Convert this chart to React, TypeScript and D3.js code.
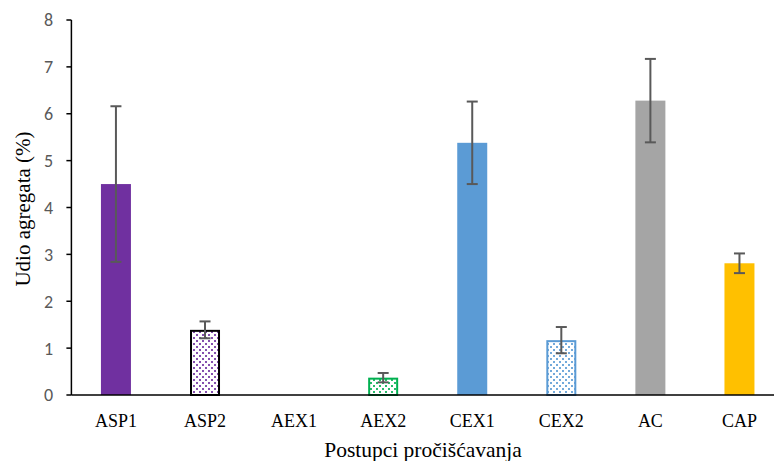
import React from "react";
import * as d3 from "d3";

const categories = ["ASP1", "ASP2", "AEX1", "AEX2", "CEX1", "CEX2", "AC", "CAP"];
const values = [4.5, 1.39, 0, 0.37, 5.38, 1.17, 6.28, 2.81];
const errors = [1.66, 0.18, 0, 0.1, 0.88, 0.28, 0.89, 0.21];
const colors = ["#7030A0", "#7030A0", "#00B050", "#00B050", "#5B9BD5", "#5B9BD5", "#A5A5A5", "#FFC000"];
const patterned = [false, true, false, true, false, true, false, false];
const yTicks = [0, 1, 2, 3, 4, 5, 6, 7, 8];

const W = 774;
const H = 461;
const left = 71.4;
const right = 784;
const top = 20;
const bottom = 395;

export default function App() {
  const x = d3.scaleBand<string>().domain(categories).range([left, right]).paddingInner(0).paddingOuter(0);
  const y = d3.scaleLinear().domain([0, 8]).range([bottom, top]);
  const bw = 30;
  const serif = "'Liberation Serif', 'Times New Roman', serif";
  const sans = "Carlito, 'Open Sans', 'Liberation Sans', sans-serif";

  return (
    <svg width={W} height={H} style={{ position: "absolute", left: 0, top: 0 }}>
      <defs>
        {categories.map((c, i) =>
          patterned[i] ? (
            <pattern key={c} id={`dots-${i}`} width={6} height={6} patternUnits="userSpaceOnUse">
              <rect x={0} y={0} width={6} height={6} fill="#fff" />
              <rect x={1} y={1} width={2} height={2} fill={colors[i]} fillOpacity={0.85} />
              <rect x={4} y={4} width={2} height={2} fill={colors[i]} fillOpacity={0.85} />
            </pattern>
          ) : null
        )}
      </defs>
      <rect width={W} height={H} fill="#fff" />

      {categories.map((c, i) => {
        const cx = (x(c) as number) + x.bandwidth() / 2;
        const v = values[i];
        if (v <= 0) return null;
        const y0 = y(v);
        return patterned[i] ? (
          <rect
            key={c}
            x={cx - bw / 2 + 1}
            y={y0 + 1}
            width={bw - 2}
            height={bottom - y0 - 1}
            fill={`url(#dots-${i})`}
            stroke={i === 1 ? "#000" : colors[i]}
            strokeWidth={2}
          />
        ) : (
          <rect key={c} x={cx - bw / 2} y={y0} width={bw} height={bottom - y0} fill={colors[i]} />
        );
      })}

      {categories.map((c, i) => {
        const cx = (x(c) as number) + x.bandwidth() / 2;
        if (values[i] <= 0) return null;
        const hi = y(values[i] + errors[i]);
        const lo = y(values[i] - errors[i]);
        return (
          <g key={c} stroke="#595959" strokeWidth={2}>
            <line x1={cx} x2={cx} y1={hi} y2={lo} />
            <line x1={cx - 5.5} x2={cx + 5.5} y1={hi} y2={hi} />
            <line x1={cx - 5.5} x2={cx + 5.5} y1={lo} y2={lo} />
          </g>
        );
      })}

      {/* axes */}
      <line x1={left} x2={W} y1={bottom} y2={bottom} stroke="#000" strokeWidth={1.5} />
      <line x1={left} x2={left} y1={top} y2={bottom} stroke="#000" strokeWidth={1.5} />
      {yTicks.map((t) => (
        <g key={t}>
          <line x1={left - 5} x2={left} y1={y(t)} y2={y(t)} stroke="#000" strokeWidth={1.5} />
          <text x={53} y={y(t)} dy="0.36em" textAnchor="end" fontFamily={sans} fontSize={18} fill="#595959">
            {t}
          </text>
        </g>
      ))}
      {categories.map((c) => (
        <text
          key={c}
          x={(x(c) as number) + x.bandwidth() / 2}
          y={427}
          textAnchor="middle"
          fontFamily={serif}
          fontSize={18}
          fill="#000"
        >
          {c}
        </text>
      ))}
      <text x={423} y={457} textAnchor="middle" fontFamily={serif} fontSize={21.5} fill="#000">
        Postupci pročišćavanja
      </text>
      <text
        transform={`translate(30, 209) rotate(-90)`}
        textAnchor="middle"
        fontFamily={serif}
        fontSize={21}
        fill="#000"
      >
        Udio agregata (%)
      </text>
    </svg>
  );
}
